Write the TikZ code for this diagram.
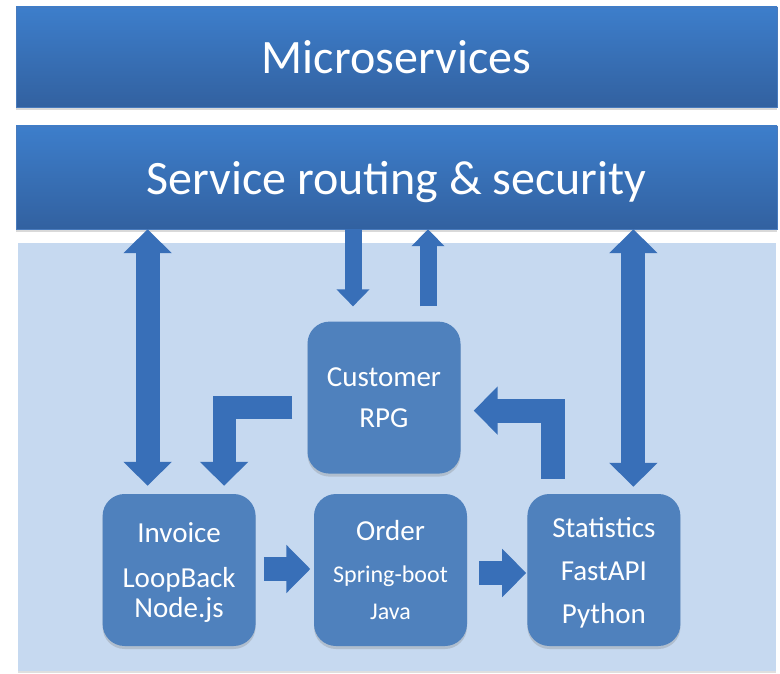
\documentclass[tikz,border=0pt]{standalone}
\usepackage{fontspec}
\setmainfont{Carlito}
\usepackage{tikz}
\usetikzlibrary{arrows.meta, positioning, shadows}
\definecolor{bartop}{RGB}{61,126,203}
\definecolor{barbottom}{RGB}{50,97,160}
\definecolor{barline}{RGB}{72,122,188}
\definecolor{boxblue}{RGB}{79,129,189}
\definecolor{panelblue}{RGB}{198,217,240}
\definecolor{arrowblue}{RGB}{56,111,184}
\tikzstyle{layer}=[rectangle, minimum width=761pt, inner sep=0pt, text depth=0pt, top color=bartop, bottom color=barbottom, draw=barline, text=white, font=\fontsize{48}{52}\selectfont, drop shadow={opacity=0.3, shadow xshift=0pt, shadow yshift=-3pt}]
\tikzstyle{service}=[rectangle, rounded corners=22pt, minimum width=153pt, minimum height=152pt, inner sep=0pt, text depth=0pt, fill=boxblue, text=white, align=center, font=\fontsize{29}{34}\selectfont, drop shadow={opacity=0.3, shadow xshift=0pt, shadow yshift=-3pt}]
\tikzstyle{flow}=[draw=arrowblue, line width=24pt, line join=miter]
\tikzstyle{flowthin}=[draw=arrowblue, line width=17pt, -{Triangle[width=32pt,length=17pt]}]

\begin{document}
\begin{tikzpicture}[x=1pt, y=-1pt, node distance=20pt, >={Triangle[width=47pt,length=24pt]}]
    \useasboundingbox (0,0) rectangle (780,674);

    % Layers.
    \node[fill=panelblue, minimum width=758pt, minimum height=428pt, inner sep=0pt, drop shadow={opacity=0.25, shadow xshift=0pt, shadow yshift=-2pt}] (panel) at (397,457) {};
    \node[layer, minimum height=100pt] (micro) at (396.5,57) {Microservices};
    \node[layer, minimum height=103pt] (routing) at (396.5,177.5) {Service routing \& security};

    % Services.
    \node[service] (order) at (390.5,570) {Order\\[8pt]{\fontsize{24}{34}\selectfont Spring-boot}\\[3pt]{\fontsize{24}{34}\selectfont Java}};
    \node[service] (inv) [left=58pt of order] {Invoice\\[11pt]LoopBack\\[-4pt]Node.js};
    \node[service] (stats) [right=60pt of order] {Statistics\\[9pt]FastAPI\\[9pt]Python};
    \node[service] (cust) [above=20pt of order, xshift=-6.5pt] {Customer\\[7pt]RPG};

    % Routing.
    \draw[flow, <->, shorten >=8pt] ([xshift=-31.5pt]inv.north |- routing.south) -- ([xshift=-31.5pt]inv.north);
    \draw[flow, <->, shorten >=7pt] ([xshift=29.5pt]stats.north |- routing.south) -- ([xshift=29.5pt]stats.north);
    \draw[flowthin, shorten >=15pt] ([xshift=-31pt]cust.north |- routing.south) -- ([xshift=-31pt]cust.north);
    \draw[flowthin, shorten <=15pt] ([xshift=44pt]cust.north) -- ([xshift=44pt]cust.north |- routing.south);

    % Customer.
    \draw[flow, ->, line width=23pt, shorten <=15pt, shorten >=8pt] ([yshift=-9.5pt]cust.west) -| ([xshift=45pt]inv.north);
    \draw[flow, ->, shorten <=15pt, shorten >=13pt] ([xshift=-50.5pt]stats.north) |- ([yshift=-13pt]cust.east);

    % Orders.
    \draw[flow, ->, shorten <=8pt, shorten >=3.5pt] ([yshift=1pt]inv.east) -- ([yshift=1pt]inv.east -| order.west);
    \draw[flow, ->, shorten <=12pt, shorten >=1pt] ([yshift=-3pt]order.east) -- ([yshift=-3pt]order.east -| stats.west);
\end{tikzpicture}
\end{document}
